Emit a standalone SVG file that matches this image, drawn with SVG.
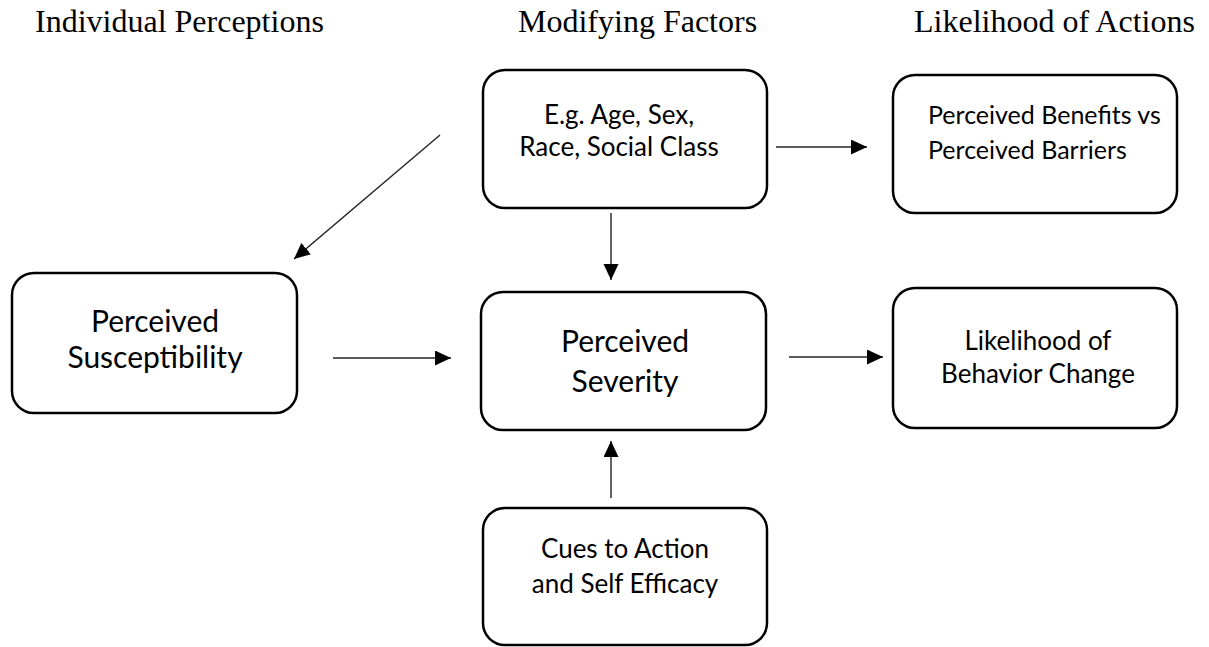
<svg xmlns="http://www.w3.org/2000/svg" width="1209" height="647" viewBox="0 0 1209 647">
<style>
.hdr{font-family:"Liberation Serif","Times New Roman",serif;font-size:32px;fill:#000}
.box{fill:#fff;stroke:#000;stroke-width:2.5}
.big{font-family:Lato,"Open Sans",sans-serif;font-size:30px;fill:#000;text-anchor:middle}
.sm{font-family:Lato,"Open Sans",sans-serif;font-size:26px;fill:#000}
.bn{font-size:25px}
.mid{text-anchor:middle}
.conn{stroke:#222;stroke-width:1.4;fill:none;marker-end:url(#ah)}
</style>
<defs>
<marker id="ah" markerUnits="userSpaceOnUse" markerWidth="18" markerHeight="16" refX="16" refY="7.5" orient="auto">
<path d="M0,0 L16,7.5 L0,15 Z" fill="#000"/>
</marker>
</defs>
<rect width="1209" height="647" fill="#fff"/>
<g id="headers">
<text class="hdr" x="35" y="32">Individual Perceptions</text>
<text class="hdr" x="518" y="32">Modifying Factors</text>
<text class="hdr" x="914" y="32">Likelihood of Actions</text>
</g>
<g id="node-modifying">
<rect class="box" x="483" y="70" width="284" height="138" rx="22"/>
<text class="sm mid" x="619" y="124">E.g. Age, Sex,</text>
<text class="sm mid" x="619" y="156">Race, Social Class</text>
</g>
<g id="node-benefits">
<rect class="box" x="893" y="75" width="284" height="138" rx="22"/>
<text class="sm bn" x="928" y="124">Perceived Benefits vs</text>
<text class="sm bn" x="928" y="159">Perceived Barriers</text>
</g>
<g id="node-susceptibility">
<rect class="box" x="12" y="273" width="285" height="140" rx="22"/>
<text class="big" x="155" y="332">Perceived</text>
<text class="big" x="155" y="368">Susceptibility</text>
</g>
<g id="node-severity">
<rect class="box" x="481" y="292" width="285" height="138" rx="22"/>
<text class="big" x="625" y="352">Perceived</text>
<text class="big" x="625" y="392">Severity</text>
</g>
<g id="node-likelihood">
<rect class="box" x="893" y="288" width="284" height="140" rx="22"/>
<text class="sm mid" x="1038" y="350">Likelihood of</text>
<text class="sm mid" x="1038" y="383">Behavior Change</text>
</g>
<g id="node-cues">
<rect class="box" x="483" y="508" width="284" height="137" rx="22"/>
<text class="sm mid" x="625" y="558">Cues to Action</text>
<text class="sm mid" x="625" y="593">and Self Efficacy</text>
</g>
<g id="connectors">
<line class="conn" x1="440" y1="135" x2="294" y2="259"/>
<line class="conn" x1="776" y1="147" x2="867" y2="147"/>
<line class="conn" x1="611" y1="213" x2="611" y2="280"/>
<line class="conn" x1="333" y1="358" x2="451" y2="358"/>
<line class="conn" x1="789" y1="357" x2="883" y2="357"/>
<line class="conn" x1="611" y1="498" x2="611" y2="441"/>
</g>
</svg>
